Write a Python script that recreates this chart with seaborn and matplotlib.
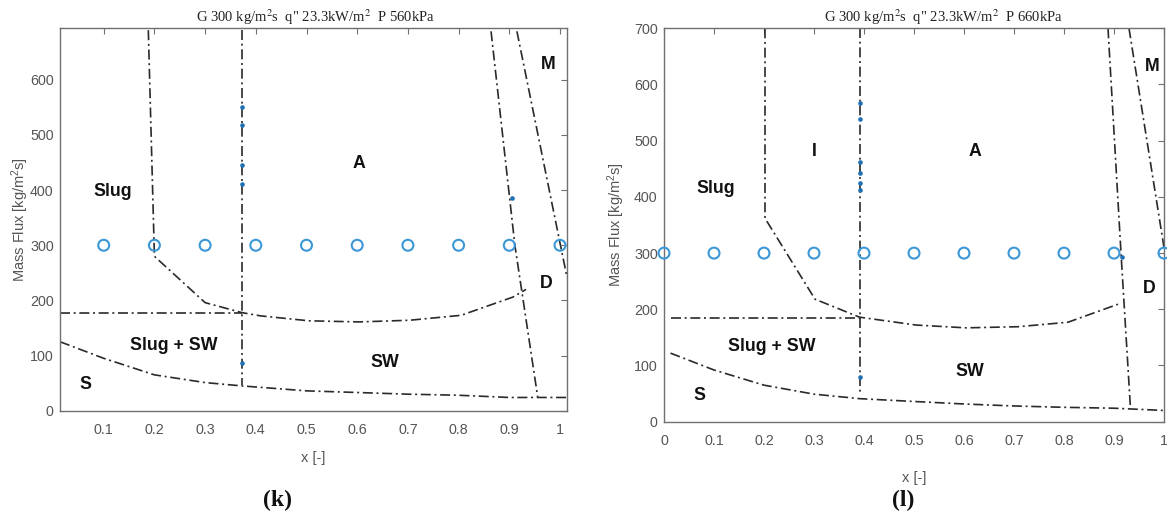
import matplotlib
matplotlib.use("Agg")
import matplotlib.pyplot as plt
import pandas as pd
import seaborn as sns

# ---------------- panel (k): G 300, q" 23.3 kW/m2, P 560 kPa ----------------
k_title = 'G 300 kg/m$^2$s  q" 23.3kW/m$^2$  P 560kPa'
k_test_x = [0.1, 0.2, 0.3, 0.4, 0.5, 0.6, 0.7, 0.8, 0.9, 1.0]
k_test_G = [300, 300, 300, 300, 300, 300, 300, 300, 300, 300]

# transition boundaries (vapour quality x, mass flux G)
k_slug_x = [0.188, 0.200, 0.300, 0.372, 0.409, 0.505, 0.604, 0.703, 0.805, 0.907, 0.933]
k_slug_G = [690, 280, 196, 178, 172, 163, 161, 164, 173, 206, 220]
k_ia_x = [0.372, 0.372]
k_ia_G = [690, 47]
k_slugsw_x = [0.014, 0.372]
k_slugsw_G = [178, 178]
k_strat_x = [0.014, 0.1, 0.2, 0.3, 0.372, 0.5, 0.6, 0.7, 0.8, 0.9, 1.014]
k_strat_G = [125, 95, 65, 51, 45, 36, 33, 30, 28, 24, 24]
k_dry_x = [0.864, 0.911, 0.956]
k_dry_G = [688, 300, 25]
k_mist_x = [0.915, 1.014]
k_mist_G = [688, 241]
k_pts_x = [0.372, 0.372, 0.372, 0.372, 0.372, 0.905]
k_pts_G = [550, 518, 445, 412, 86, 385]

k_xticks = [0.1, 0.2, 0.3, 0.4, 0.5, 0.6, 0.7, 0.8, 0.9, 1.0]
k_xticklabels = ["0.1", "0.2", "0.3", "0.4", "0.5", "0.6", "0.7", "0.8", "0.9", "1"]
k_yticks = [0, 100, 200, 300, 400, 500, 600]
k_regions = ["Slug", "A", "M", "D", "Slug + SW", "SW", "S"]

# ---------------- panel (l): G 300, q" 23.3 kW/m2, P 660 kPa ----------------
l_title = 'G 300 kg/m$^2$s  q" 23.3kW/m$^2$  P 660kPa'
l_test_x = [0.0, 0.1, 0.2, 0.3, 0.4, 0.5, 0.6, 0.7, 0.8, 0.9, 1.0]
l_test_G = [300, 300, 300, 300, 300, 300, 300, 300, 300, 300, 300]

l_slug_x = [0.202, 0.202, 0.302, 0.391, 0.504, 0.604, 0.708, 0.808, 0.908]
l_slug_G = [700, 362, 218, 186, 172, 167, 169, 177, 209]
l_ia_x = [0.391, 0.391]
l_ia_G = [700, 52]
l_slugsw_x = [0.013, 0.391]
l_slugsw_G = [185, 185]
l_strat_x = [0.013, 0.1, 0.2, 0.3, 0.391, 0.5, 0.6, 0.7, 0.8, 0.9, 1.0]
l_strat_G = [122, 92, 65, 49, 41, 36, 31.5, 28, 25.6, 24, 20]
l_dry_x = [0.888, 0.914, 0.933]
l_dry_G = [700, 300, 23]
l_mist_x = [0.930, 1.0]
l_mist_G = [700, 310]
l_pts_x = [0.391, 0.391, 0.391, 0.391, 0.391, 0.391, 0.391, 0.915]
l_pts_G = [567, 539, 462, 443, 425, 412, 80, 293]

l_xticks = [0.0, 0.1, 0.2, 0.3, 0.4, 0.5, 0.6, 0.7, 0.8, 0.9, 1.0]
l_xticklabels = ["0", "0.1", "0.2", "0.3", "0.4", "0.5", "0.6", "0.7", "0.8", "0.9", "1"]
l_yticks = [0, 100, 200, 300, 400, 500, 600, 700]
l_regions = ["Slug", "I", "A", "M", "D", "Slug + SW", "SW", "S"]

# ---------------- styling ----------------
sns.set_style("white")
plt.rcParams["font.family"] = ["Liberation Sans", "DejaVu Sans"]
plt.rcParams["mathtext.fontset"] = "custom"
plt.rcParams["mathtext.rm"] = "Liberation Sans"
plt.rcParams["mathtext.it"] = "Liberation Sans:italic"

GRAY_TXT = "#555555"
GRAY_AX = "#707070"
LINE_C = "#2a2a2a"
CIRC_C = "#3a97d8"
DOT_C = "#1f6fb5"
DASHDOT = (0, (6, 2.2, 1.2, 2.2))

fig = plt.figure(figsize=(11.67, 5.24), dpi=100)
W, H = 1167, 524


def px_axes(l, t, r, b):
    return [l / W, 1 - b / H, (r - l) / W, (b - t) / H]


ax_k = fig.add_axes(px_axes(60, 28, 567, 410.7))
ax_l = fig.add_axes(px_axes(664, 28.3, 1164, 421.7))


def boundary(ax, xs, gs):
    df = pd.DataFrame({"x": xs, "G": gs})
    sns.lineplot(data=df, x="x", y="G", ax=ax, sort=False, estimator=None,
                 color=LINE_C, linewidth=1.2, linestyle=DASHDOT)


def draw_panel(ax, lines, test_x, test_G, pts_x, pts_G):
    for xs, gs in lines:
        boundary(ax, xs, gs)
    sns.scatterplot(x=pts_x, y=pts_G, ax=ax, color=DOT_C, s=11, linewidth=0,
                    marker="o", zorder=4)
    sns.scatterplot(x=test_x, y=test_G, ax=ax, marker="o", s=62,
                    facecolor="none", edgecolor=CIRC_C, linewidth=1.5,
                    zorder=5, clip_on=False)


draw_panel(ax_k,
           [(k_slug_x, k_slug_G), (k_ia_x, k_ia_G), (k_slugsw_x, k_slugsw_G),
            (k_strat_x, k_strat_G), (k_dry_x, k_dry_G), (k_mist_x, k_mist_G)],
           k_test_x, k_test_G, k_pts_x, k_pts_G)
draw_panel(ax_l,
           [(l_slug_x, l_slug_G), (l_ia_x, l_ia_G), (l_slugsw_x, l_slugsw_G),
            (l_strat_x, l_strat_G), (l_dry_x, l_dry_G), (l_mist_x, l_mist_G)],
           l_test_x, l_test_G, l_pts_x, l_pts_G)

ax_k.set_xlim(0.0138, 1.0138)
ax_k.set_ylim(0, 694)
ax_l.set_xlim(0, 1)
ax_l.set_ylim(0, 700)

ax_k.set_xticks(k_xticks, k_xticklabels)
ax_k.set_yticks(k_yticks)
ax_l.set_xticks(l_xticks, l_xticklabels)
ax_l.set_yticks(l_yticks)

for ax, ylab_x in ((ax_k, -0.058), (ax_l, -0.074)):
    ax.tick_params(axis="both", which="both", direction="in", length=4,
                   width=0.8, color=GRAY_AX, labelcolor=GRAY_TXT,
                   labelsize=10.3, top=True, right=True)
    ax.tick_params(axis="x", pad=8.5)
    ax.tick_params(axis="y", pad=4.5)
    for sp in ax.spines.values():
        sp.set_visible(True)
        sp.set_color(GRAY_AX)
        sp.set_linewidth(1.0)
    ax.set_xlabel("x [-]", color=GRAY_TXT, fontsize=10.5)
    ax.set_ylabel("Mass Flux [kg/m$^2$s]", color=GRAY_TXT, fontsize=10.5)
    ax.yaxis.set_label_coords(ylab_x, 0.5)
    ax.grid(False)

ax_k.xaxis.set_label_coords(0.5, -0.105)
ax_l.xaxis.set_label_coords(0.5, -0.125)

# flow-regime labels
k_label_pos = [(0.117, 397), (0.604, 449), (0.976, 627), (0.972, 230),
               (0.238, 119), (0.655, 88), (0.064, 48)]
l_label_pos = [(0.104, 415), (0.300, 480), (0.622, 480), (0.977, 632),
               (0.970, 237), (0.215, 133), (0.611, 89), (0.070, 47)]
for ax, names, pos in ((ax_k, k_regions, k_label_pos), (ax_l, l_regions, l_label_pos)):
    for name, (x, g) in zip(names, pos):
        ax.text(x, g, name, ha="center", va="center", fontsize=12.8,
                fontweight="bold", color="#111111", zorder=6)

# panel titles in serif
fig.text(315.5 / W, 1 - 17 / H, k_title, ha="center", va="center",
         family="Liberation Serif", fontsize=10.5, color="#222222",
         math_fontfamily="stix")
fig.text(943 / W, 1 - 17 / H, l_title, ha="center", va="center",
         family="Liberation Serif", fontsize=10.5, color="#222222",
         math_fontfamily="stix")

# panel tags
fig.text(277 / W, 1 - 500 / H, "(k)", ha="center", va="center",
         family="Liberation Serif", fontsize=17, fontweight="bold", color="#111111")
fig.text(903 / W, 1 - 500 / H, "(l)", ha="center", va="center",
         family="Liberation Serif", fontsize=17, fontweight="bold", color="#111111")

fig.savefig("out.png", dpi=100)
